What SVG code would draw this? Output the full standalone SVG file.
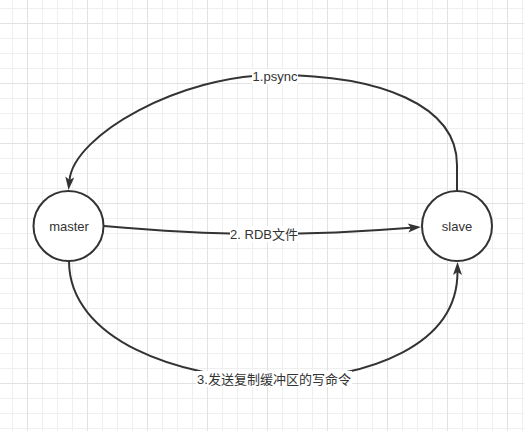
<svg xmlns="http://www.w3.org/2000/svg" width="524" height="431" viewBox="0 0 524 431">
  <defs>
    <style>
      .node { fill: #ffffff; stroke: #333333; stroke-width: 2; }
      .edge { fill: none; stroke: #333333; stroke-width: 2; }
      .txt { font-family: "Liberation Sans", Arial, "Noto Sans CJK SC", sans-serif; font-size: 13px; fill: #333333; text-anchor: middle; }
      .lblbg { fill: #ffffff; }
      .gmin { stroke: #efefef; stroke-width: 1; }
      .gmaj { stroke: #e2e2e2; stroke-width: 1; }
    </style>
    <marker id="arrow" markerUnits="userSpaceOnUse" markerWidth="16" markerHeight="12" viewBox="-4 -6 16 12" refX="0" refY="0" orient="auto">
      <path d="M10,0 L-3,-4.5 L0,0 L-3,4.5 Z" fill="#333333"/>
    </marker>
    <pattern id="grid" patternUnits="userSpaceOnUse" x="27" y="23" width="60" height="60">
      <line class="gmin" x1="15.5" y1="0" x2="15.5" y2="60"/>
      <line class="gmin" x1="30.5" y1="0" x2="30.5" y2="60"/>
      <line class="gmin" x1="45.5" y1="0" x2="45.5" y2="60"/>
      <line class="gmin" x1="0" y1="15.5" x2="60" y2="15.5"/>
      <line class="gmin" x1="0" y1="30.5" x2="60" y2="30.5"/>
      <line class="gmin" x1="0" y1="45.5" x2="60" y2="45.5"/>
      <line class="gmaj" x1="0.5" y1="0" x2="0.5" y2="60"/>
      <line class="gmaj" x1="0" y1="0.5" x2="60" y2="0.5"/>
    </pattern>
  </defs>

  <rect id="background" x="0" y="0" width="524" height="431" fill="#ffffff"/>
  <rect id="grid-layer" x="0" y="0" width="524" height="431" fill="url(#grid)"/>

  <g id="connectors">
    <g id="edge-psync">
      <path class="edge" d="M457,191 L457,165 C457,105 380,75 275,75 C180,75 74,135 69.5,180" marker-end="url(#arrow)"/>
      <rect class="lblbg" x="252" y="69" width="46" height="15"/>
      <text class="txt" x="275" y="80.5">1.psync</text>
    </g>
    <g id="edge-rdb">
      <path class="edge" d="M104,226 C160,231 220,234 264,234 C310,234 365,231.5 411,227.8" marker-end="url(#arrow)"/>
      <rect class="lblbg" x="230" y="226" width="68" height="16"/>
      <text class="txt" x="264" y="238.5">2. RDB文件</text>
    </g>
    <g id="edge-buffer">
      <path class="edge" d="M69,261 C69,340 180,379 274,379 C370,379 457.5,345 457.5,272" marker-end="url(#arrow)"/>
      <rect class="lblbg" x="196" y="371" width="156" height="16"/>
      <text class="txt" x="274" y="384">3.发送复制缓冲区的写命令</text>
    </g>
  </g>

  <g id="node-master">
    <circle class="node" cx="68.5" cy="226" r="35"/>
    <text class="txt" x="69" y="231">master</text>
  </g>
  <g id="node-slave">
    <circle class="node" cx="457" cy="226" r="35"/>
    <text class="txt" x="457" y="231">slave</text>
  </g>
</svg>
